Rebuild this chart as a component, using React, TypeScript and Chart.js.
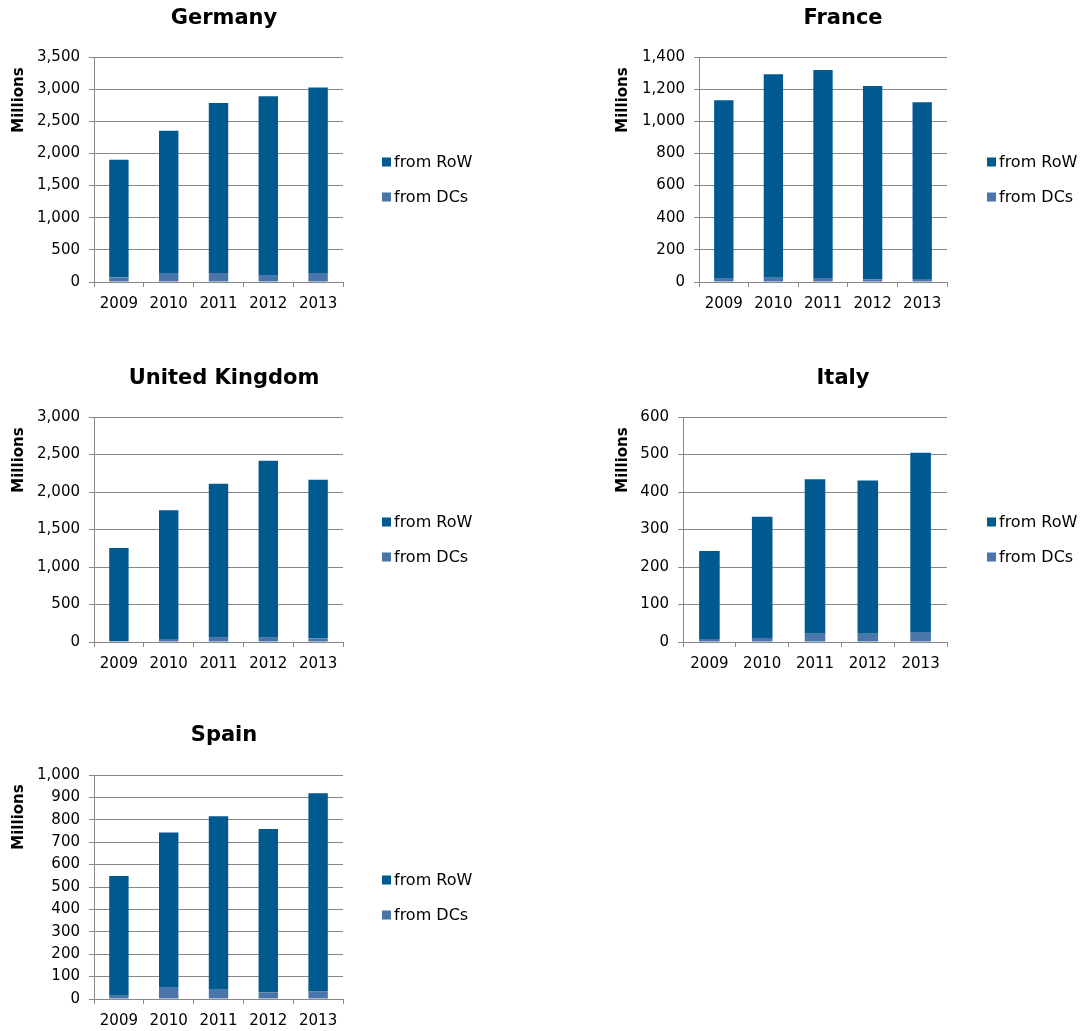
import React, { useEffect, useRef } from 'react';
import { Chart, registerables } from 'chart.js';

Chart.register(...registerables);

// ---------------- data ----------------
const categories = ['2009', '2010', '2011', '2012', '2013'];
const countries = ['Germany', 'France', 'United Kingdom', 'Italy', 'Spain'];
const seriesLabels = ['from RoW', 'from DCs'];
const yAxisTitle = 'Millions';

const germanyRoW = [1828, 2214, 2643, 2793, 2885];
const germanyDCs = [72, 140, 140, 98, 140];
const franceRoW = [1110, 1265, 1294, 1204, 1100];
const franceDCs = [21, 27, 25, 15, 19];
const ukRoW = [1240, 1726, 2045, 2350, 2115];
const ukDCs = [13, 31, 66, 66, 49];
const italyRoW = [235, 323, 412, 409, 480];
const italyDCs = [8, 11, 22, 22, 25];
const spainRoW = [534, 693, 775, 729, 884];
const spainDCs = [15, 50, 41, 30, 34];

const rowSeries = [germanyRoW, franceRoW, ukRoW, italyRoW, spainRoW];
const dcsSeries = [germanyDCs, franceDCs, ukDCs, italyDCs, spainDCs];
const yMax = [3500, 1400, 3000, 600, 1000];
const yStep = [500, 200, 500, 100, 100];

// ---------------- styles / layout ----------------
const COLOR_ROW = '#005A8F';
const COLOR_DCS = '#4A75A9';
const GRID = '#888888';
const FONT = '"DejaVu Sans", Verdana, sans-serif';
const Y_W = 60;
const X_H = 40;

type Box = { x: number; y: number; w: number; h: number };
type Layout = {
  panel: Box;
  plot: { l: number; t: number; r: number; b: number };
  title: { x: number; y: number };
  axisTitle: { x: number; y: number };
  legend: { x: number; y1: number; y2: number };
};

const layouts: Layout[] = [
  {
    panel: { x: 0, y: 0, w: 540, h: 355 },
    plot: { l: 94, t: 57, r: 343, b: 282 },
    title: { x: 224, y: 24 },
    axisTitle: { x: 23, y: 100 },
    legend: { x: 382, y1: 162, y2: 197 },
  },
  {
    panel: { x: 545, y: 0, w: 543, h: 355 },
    plot: { l: 699, t: 57, r: 947, b: 282 },
    title: { x: 843, y: 24 },
    axisTitle: { x: 627, y: 100 },
    legend: { x: 987, y1: 162, y2: 197 },
  },
  {
    panel: { x: 0, y: 360, w: 540, h: 355 },
    plot: { l: 94, t: 417, r: 343, b: 642 },
    title: { x: 224, y: 384 },
    axisTitle: { x: 23, y: 460 },
    legend: { x: 382, y1: 522, y2: 557 },
  },
  {
    panel: { x: 545, y: 360, w: 543, h: 355 },
    plot: { l: 683, t: 417, r: 947, b: 642 },
    title: { x: 843, y: 384 },
    axisTitle: { x: 627, y: 460 },
    legend: { x: 987, y1: 522, y2: 557 },
  },
  {
    panel: { x: 0, y: 715, w: 540, h: 316 },
    plot: { l: 94, t: 775, r: 343, b: 999 },
    title: { x: 224, y: 741 },
    axisTitle: { x: 23, y: 817 },
    legend: { x: 382, y1: 880, y2: 915 },
  },
];

function MiniChart({ idx }: { idx: number }) {
  const ref = useRef<HTMLCanvasElement | null>(null);
  const L = layouts[idx];

  useEffect(() => {
    if (!ref.current) return;
    const p = L.panel;
    const decor = {
      id: 'decor' + idx,
      afterDraw(chart: any) {
        const ctx = chart.ctx as CanvasRenderingContext2D;
        ctx.save();
        ctx.fillStyle = '#000';
        // title
        ctx.font = `bold 21px ${FONT}`;
        ctx.textAlign = 'center';
        ctx.textBaseline = 'alphabetic';
        ctx.fillText(countries[idx], L.title.x - p.x, L.title.y - p.y);
        // axis title
        ctx.save();
        ctx.translate(L.axisTitle.x - p.x, L.axisTitle.y - p.y);
        ctx.rotate(-Math.PI / 2);
        ctx.font = `bold 15px ${FONT}`;
        ctx.fillText(yAxisTitle, 0, 0);
        ctx.restore();
        // legend
        ctx.font = `16px ${FONT}`;
        ctx.textAlign = 'left';
        ctx.textBaseline = 'middle';
        const items = [
          { label: seriesLabels[0], color: COLOR_ROW, y: L.legend.y1 },
          { label: seriesLabels[1], color: COLOR_DCS, y: L.legend.y2 },
        ];
        items.forEach((it) => {
          ctx.fillStyle = it.color;
          ctx.fillRect(L.legend.x - p.x, it.y - p.y - 4.5, 9, 9);
          ctx.fillStyle = '#000';
          ctx.fillText(it.label, L.legend.x - p.x + 12, it.y - p.y + 1);
        });
        ctx.restore();
      },
    };

    const chart = new Chart(ref.current, {
      type: 'bar',
      data: {
        labels: categories,
        datasets: [
          {
            label: seriesLabels[1],
            data: dcsSeries[idx],
            backgroundColor: COLOR_DCS,
            borderWidth: 0,
            barPercentage: 0.39,
            categoryPercentage: 1,
          },
          {
            label: seriesLabels[0],
            data: rowSeries[idx],
            backgroundColor: COLOR_ROW,
            borderWidth: 0,
            barPercentage: 0.39,
            categoryPercentage: 1,
          },
        ],
      },
      options: {
        responsive: false,
        animation: false,
        layout: {
          padding: {
            left: L.plot.l - p.x - Y_W,
            top: L.plot.t - p.y,
            right: p.x + p.w - L.plot.r,
            bottom: p.y + p.h - L.plot.b - X_H,
          },
        },
        plugins: {
          legend: { display: false },
          title: { display: false },
          tooltip: { enabled: false },
        },
        scales: {
          x: {
            stacked: true,
            afterFit: (s: any) => {
              s.height = X_H;
            },
            grid: {
              display: true,
              offset: true,
              drawOnChartArea: false,
              drawTicks: true,
              tickLength: 5,
              color: GRID,
            },
            border: { display: true, color: GRID, width: 1 },
            ticks: {
              color: '#000',
              font: { family: FONT, size: 15 },
              padding: 8,
              maxRotation: 0,
              autoSkip: false,
            },
          },
          y: {
            stacked: true,
            min: 0,
            max: yMax[idx],
            afterFit: (s: any) => {
              s.width = Y_W;
            },
            grid: {
              color: GRID,
              drawTicks: true,
              tickLength: 5,
            },
            border: { display: true, color: GRID, width: 1 },
            ticks: {
              stepSize: yStep[idx],
              color: '#000',
              font: { family: FONT, size: 15 },
              padding: 9,
              callback: (v: any) => Number(v).toLocaleString('en-US'),
            },
          },
        },
      },
      plugins: [decor],
    });
    return () => chart.destroy();
  }, [idx]);

  const p = L.panel;
  return (
    <div style={{ position: 'absolute', left: p.x, top: p.y, width: p.w, height: p.h }}>
      <canvas ref={ref} width={p.w} height={p.h} style={{ display: 'block', width: p.w, height: p.h }} />
    </div>
  );
}

export default function App() {
  return (
    <div style={{ position: 'absolute', left: 0, top: 0, width: 1088, height: 1031, background: '#fff' }}>
      {countries.map((_, i) => (
        <MiniChart key={i} idx={i} />
      ))}
    </div>
  );
}
